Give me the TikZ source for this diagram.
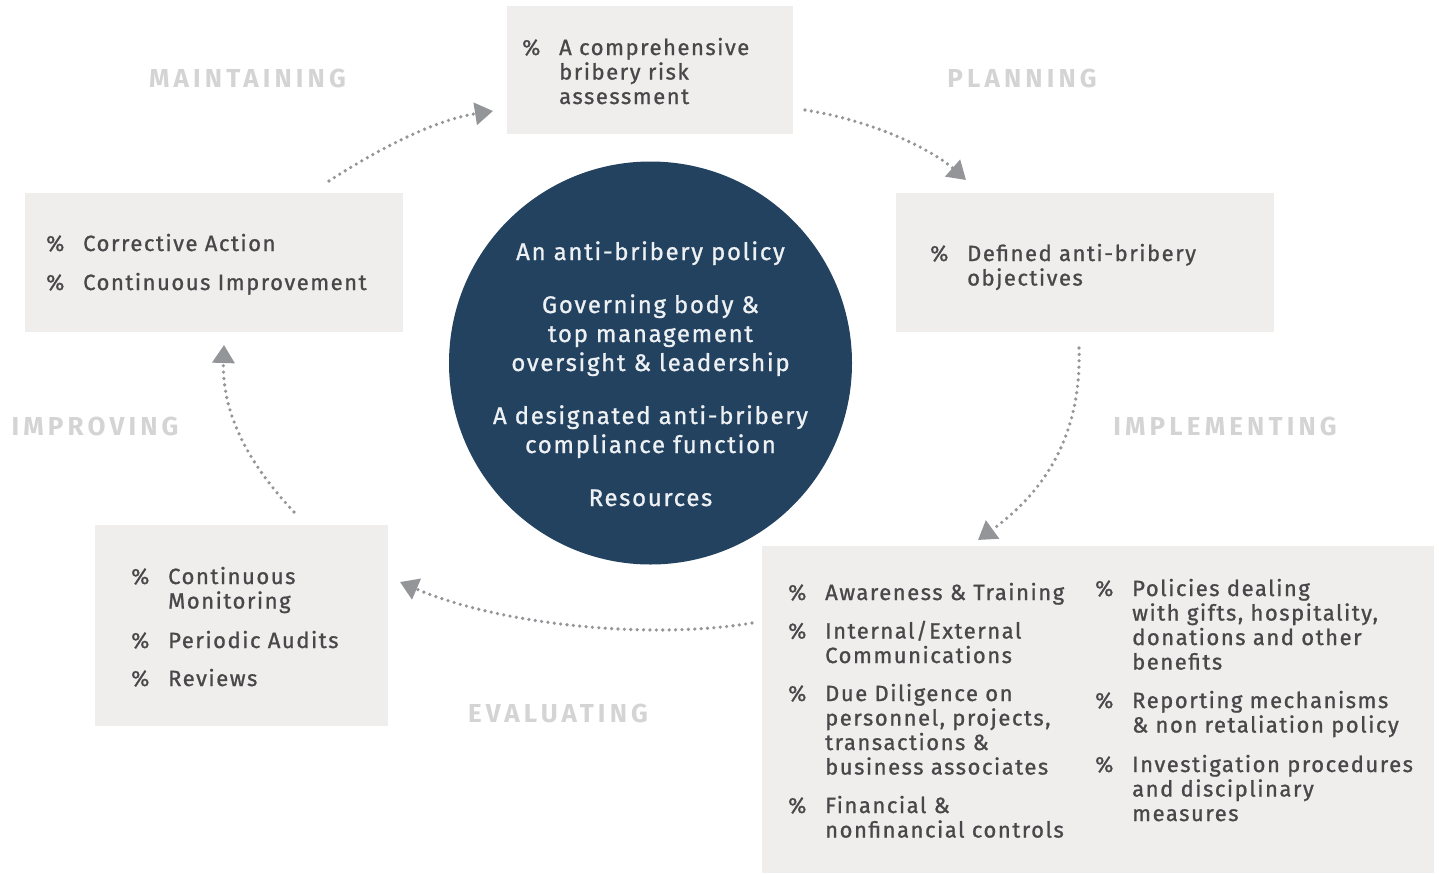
\documentclass[tikz,border=0pt]{standalone}
\usepackage{fontspec}
\usetikzlibrary{arrows.meta}
\setmainfont{Fira Sans}
\newfontfamily\bodyfont[LetterSpace=7,FakeBold=1]{Fira Sans}
\newfontfamily\stagefont[LetterSpace=16]{Fira Sans}
\definecolor{panel}{HTML}{EFEEEC}
\definecolor{navy}{HTML}{22425F}
\definecolor{ink}{HTML}{48484A}
\definecolor{stage}{HTML}{D4D4D4}
\definecolor{flow}{HTML}{939598}
\definecolor{pale}{HTML}{EEF1F4}
% percent-sign bullet hanging to the left of an item
\newcommand\bul{\llap{\makebox[37pt][l]{\%}}}
\begin{document}
\begin{tikzpicture}[x=1pt,y=-1pt,
  panelbox/.style={fill=panel, draw=none, anchor=north west, inner sep=0pt},
  item/.style={anchor=base west, inner sep=0pt, text width=330pt, align=left,
    text=ink, font=\bodyfont\fontsize{22}{24.5}\selectfont},
  corelines/.style={anchor=base, inner sep=0pt, text width=400pt, align=center,
    text=pale, font=\bodyfont\fontsize{24}{29}\selectfont},
  stagelbl/.style={anchor=base, inner sep=0pt, text=stage,
    font=\stagefont\bfseries\fontsize{26}{30}\selectfont},
  flowline/.style={draw=flow, line width=3.6pt, line cap=round,
    dash pattern=on 0pt off 6.4pt,
    -{Triangle[length=18pt,width=22pt,fill=flow]}},
]
\useasboundingbox (0,0) rectangle (1439,873);

% panels
\node[panelbox, minimum width=286pt, minimum height=128pt] (assess) at (507,6) {};
\node[panelbox, minimum width=378pt, minimum height=139pt] (maint) at (25,193) {};
\node[panelbox, minimum width=378pt, minimum height=139pt] (plan) at (896,193) {};
\node[panelbox, minimum width=293pt, minimum height=201pt] (improve) at (95,525) {};
\node[panelbox, minimum width=672pt, minimum height=327pt] (impl) at (762,546) {};

% central circle
\node[circle, fill=navy, minimum size=403pt, inner sep=0pt] (core) at (650.5,363) {};
\node[corelines] (coretext) at (650.5,260) {An anti-bribery policy\\[24pt]
  Governing body \&\\top management\\oversight \& leadership\\[24pt]
  A designated anti-bribery\\compliance function\\[24pt]
  Resources};

% panel texts
\node[item] (a1) at (559,55) {\bul A comprehensive\\bribery risk\\assessment};
\node[item] (b1) at (83,251) {\bul Corrective Action};
\node[item] (b2) at (83,290) {\bul Continuous Improvement};
\node[item] (c1) at (967,261) {\bul Defined anti-bribery\\objectives};
\node[item] (d1) at (168,584) {\bul Continuous\\Monitoring};
\node[item] (d2) at (168,648) {\bul Periodic Audits};
\node[item] (d3) at (168,686) {\bul Reviews};
\node[item] (e1) at (825,600) {\bul Awareness \& Training};
\node[item] (e2) at (825,638.5) {\bul Internal/External\\Communications};
\node[item] (e3) at (825,701) {\bul Due Diligence on\\personnel, projects,\\transactions \&\\business associates};
\node[item] (e4) at (825,813) {\bul Financial \&\\nonfinancial controls};
\node[item] (f1) at (1132,596) {\bul Policies dealing\\with gifts, hospitality,\\donations and other\\benefits};
\node[item] (f2) at (1132,708) {\bul Reporting mechanisms\\\& non retaliation policy};
\node[item] (f3) at (1132,772) {\bul Investigation procedures\\and disciplinary\\measures};

% stage labels
\node[stagelbl] (lmaint) at (247.5,87) {MAINTAINING};
\node[stagelbl] (lplan) at (1022,87) {PLANNING};
\node[stagelbl] (limprove) at (95,435) {IMPROVING};
\node[stagelbl] (limpl) at (1225,435) {IMPLEMENTING};
\node[stagelbl] (leval) at (558,722) {EVALUATING};

% flow arrows
\coordinate (m0) at (329,181);   \coordinate (m1) at (493,111);
\coordinate (p0) at (805,110);   \coordinate (p1) at (966,180);
\coordinate (i0) at (1079,348);  \coordinate (i1) at (978,540);
\coordinate (v0) at (752,623);   \coordinate (v1) at (400,582);
\coordinate (r0) at (294,512);   \coordinate (r1) at (224,345);
\draw[flowline] (m0) .. controls (380,148) and (435,120) .. (m1);
\draw[flowline] (p0) .. controls (870,120) and (930,148) .. (p1);
\draw[flowline] (i0) .. controls (1082,440) and (1040,495) .. (i1);
\draw[flowline] (v0) .. controls (650,640) and (500,625) .. (v1);
\draw[flowline] (r0) .. controls (245,460) and (222,410) .. (r1);
\end{tikzpicture}
\end{document}
